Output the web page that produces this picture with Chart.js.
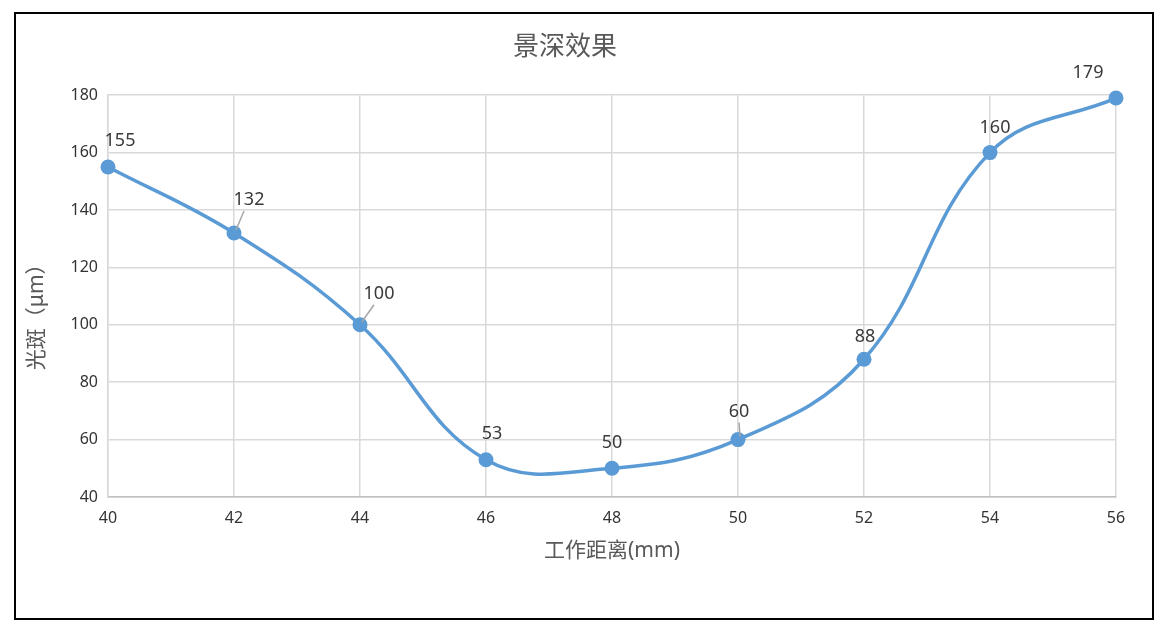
<!DOCTYPE html>
<html>
<head>
<meta charset="utf-8">
<script src="https://cdn.jsdelivr.net/npm/chart.js@4/dist/chart.umd.min.js"></script>
<style>
    body { margin: 0; background: #fff; }
    #wrap { position: relative; width: 1166px; height: 627px; }
    #frame { position: absolute; left: 14px; top: 12px; width: 1136px; height: 604px; border: 2px solid #000; pointer-events: none; }
</style>
</head>
<body>
<div id="wrap">
    <canvas id="myChart"></canvas>
    <div id="frame"></div>
</div>
<script>
// data
const distances = [40, 42, 44, 46, 48, 50, 52, 54, 56]
const spots = [155, 132, 100, 53, 50, 60, 88, 160, 179]
const yTicks = [40, 60, 80, 100, 120, 140, 160, 180]

const FONT = "'Noto Sans', 'Noto Sans CJK SC', sans-serif"

// label nudges, like excel's dragged data labels
const labelShift = [[12, -26], [15, -33], [19, -31], [6, -26], [0, -25], [1, -28], [1, -22], [5, -25], [-28, -25]]
const withLeader = [false, true, true, false, false, true, false, false, false]

const pointLabels = {
    id: 'pointLabels',
    afterDatasetsDraw(chart) {
        const ctx = chart.ctx
        const meta = chart.getDatasetMeta(0)
        ctx.save()
        ctx.font = '18px ' + FONT
        ctx.textAlign = 'center'
        ctx.textBaseline = 'middle'
        meta.data.forEach((pt, i) => {
            const lx = pt.x + labelShift[i][0]
            const ly = pt.y + labelShift[i][1]
            if (withLeader[i]) {
                ctx.strokeStyle = '#a6a6a6'
                ctx.lineWidth = 1.5
                ctx.beginPath()
                ctx.moveTo(pt.x + 2, pt.y - 3)
                ctx.lineTo(lx - (labelShift[i][0] > 3 ? 5 : 0), ly + 11)
                ctx.stroke()
            }
            ctx.fillStyle = '#3a3a3a'
            ctx.fillText(String(spots[i]), lx, ly)
        })
        ctx.restore()
    }
}

function chart() {
    const data = {
        datasets: [{
            label: '光斑',
            data: distances.map((d, i) => ({ x: d, y: spots[i] })),
            borderColor: '#5b9bd5',
            backgroundColor: '#5b9bd5',
            borderWidth: 3.5,
            pointRadius: 7.5,
            pointBorderWidth: 0,
            tension: 0.4,
            clip: false
        }]
    }

    const config = {
        type: 'line',
        data: data,
        plugins: [pointLabels],
        options: {
            responsive: true,
            maintainAspectRatio: false,
            animation: false,
            devicePixelRatio: 1,
            layout: { padding: { left: 14, right: 50, top: 0, bottom: 50 } },
            plugins: {
                legend: { display: false },
                tooltip: { enabled: false },
                title: {
                    display: true,
                    text: '景深效果',
                    color: '#595959',
                    font: { family: FONT, size: 26, weight: 'normal' },
                    padding: { top: 32, bottom: 32 }
                }
            },
            scales: {
                x: {
                    type: 'linear',
                    min: 40,
                    max: 56,
                    afterFit(scale) { scale.height = 80 },
                    afterBuildTicks(scale) { scale.ticks = distances.map(v => ({ value: v })) },
                    grid: { color: '#d9d9d9', lineWidth: 1.5, drawTicks: false },
                    border: { color: '#bfbfbf', width: 1.5 },
                    ticks: { color: '#333333', padding: 12, font: { family: FONT, size: 16 } },
                    title: {
                        display: true,
                        text: '工作距离(mm)',
                        color: '#595959',
                        font: { family: FONT, size: 21 },
                        padding: { top: 4, bottom: 13 }
                    }
                },
                y: {
                    min: 40,
                    max: 180,
                    afterFit(scale) { scale.width = 94 },
                    afterBuildTicks(scale) { scale.ticks = yTicks.map(v => ({ value: v })) },
                    grid: { color: '#d9d9d9', lineWidth: 1.5, drawTicks: false },
                    border: { color: '#d9d9d9', width: 1.5 },
                    ticks: { color: '#333333', padding: 10, font: { family: FONT, size: 16 } },
                    title: {
                        display: true,
                        text: '光斑（μm）\u3000\u3000',
                        color: '#595959',
                        font: { family: FONT, size: 21 },
                        padding: { top: 10, bottom: 4 }
                    }
                }
            }
        }
    }

    new Chart(document.getElementById('myChart'), config)
}
chart()
</script>
</body>
</html>
